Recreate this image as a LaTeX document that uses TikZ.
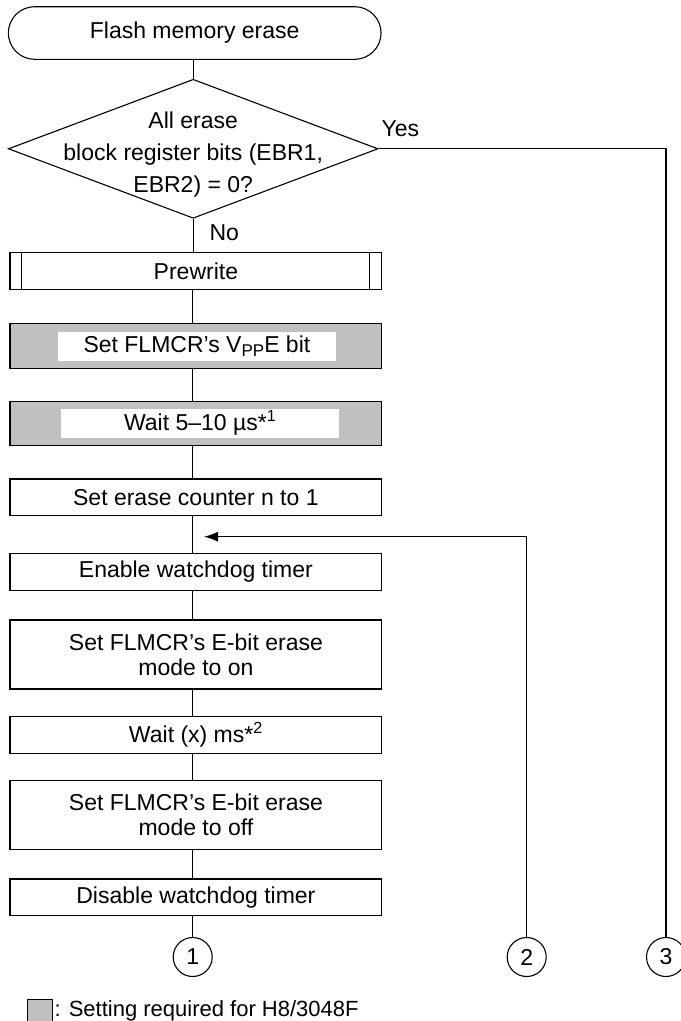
\documentclass[tikz,border=0pt]{standalone}
\usepackage{fontspec}
\setmainfont{Liberation Sans}
\usetikzlibrary{shapes.geometric,arrows.meta}
\definecolor{boxgray}{HTML}{C0C0C0}
\newcommand{\mysub}[1]{\raisebox{-4.5bp}{\fontsize{17bp}{16bp}\selectfont #1}}
\begin{document}
\begin{tikzpicture}[x=1bp,y=-1bp, line width=1.1bp,
  font=\fontsize{23bp}{28bp}\selectfont,
  box/.style={draw, rectangle, minimum width=371.7bp, inner sep=0pt, align=center},
  graybox/.style={box, fill=boxgray},
  whitelabel/.style={fill=white, inner sep=0pt},
  twoline/.style={font=\fontsize{23bp}{25bp}\selectfont},
  conn/.style={draw, circle, minimum size=39bp, inner sep=0pt},
  lbl/.style={anchor=base west, inner sep=0pt},
  arr/.style={-{Latex[length=14bp,width=10bp]}}]
\useasboundingbox (0,0) rectangle (681,1021);
\coordinate (sp) at (192.9,0);
% nodes
\node[draw, rounded corners=26.3bp, minimum width=372.7bp, minimum height=52.6bp, inner sep=0pt] (start) at (194.7,33) {Flash memory erase};
\node[draw, diamond, minimum width=369.7bp, minimum height=139bp, inner sep=0pt] (dec) at (193.2,148.8) {};
\node[align=center, inner sep=0pt, font=\fontsize{23bp}{32bp}\selectfont] (dectext) at (193.2,155) {All erase\\block register bits (EBR1,\\EBR2) = 0?};
\node[box, minimum height=36.3bp] (pre) at (195.9,270.9) {Prewrite};
\draw ([xshift=12bp]pre.north west) -- ([xshift=12bp]pre.south west);
\draw ([xshift=-12.7bp]pre.north east) -- ([xshift=-12.7bp]pre.south east);
\node[graybox, minimum height=45bp] (vpp) at (195.9,345.8) {};
\node[whitelabel, minimum width=277.7bp, minimum height=29bp] (vpptext) at (196.9,346.2) {Set FLMCR’s V\mysub{PP}E bit};
\node[graybox, minimum height=44.4bp] (w1) at (195.9,423.5) {};
\node[whitelabel, minimum width=278.3bp, minimum height=28.7bp] (w1text) at (200.2,423.3) {Wait 5–10 µs*\textsuperscript{1}};
\node[box, minimum height=36.7bp] (cnt) at (195.9,497.3) {Set erase counter n to 1};
\node[box, minimum height=36.7bp] (wdt) at (195.9,571.7) {Enable watchdog timer};
\node[box, twoline, minimum height=69bp] (eon) at (195.9,654.5) {Set FLMCR’s E-bit erase\\mode to on};
\node[box, minimum height=36.6bp] (wx) at (195.9,735) {Wait (x) ms*\textsuperscript{2}};
\node[box, twoline, minimum height=68.6bp] (eoff) at (195.9,815) {Set FLMCR’s E-bit erase\\mode to off};
\node[box, minimum height=36.7bp] (dis) at (195.9,897.3) {Disable watchdog timer};
\node[conn] (c1) at (192.7,957) {1};
\node[conn] (c2) at (526.7,957) {2};
\node[conn] (c3) at (666,957) {3};
% labels
\node[lbl] (yes) at (381,136) {Yes};
\node[lbl] (no) at (209,240.7) {No};
% connectors
\draw (start.south -| dec.north) -- (dec.north);
\draw (dec.south) -- (pre.north -| dec.south);
\draw (pre.south -| sp) -- (vpp.north -| sp);
\draw (vpp.south -| sp) -- (w1.north -| sp);
\draw (w1.south -| sp) -- (cnt.north -| sp);
\draw (cnt.south -| sp) -- (wdt.north -| sp);
\draw (wdt.south -| sp) -- (eon.north -| sp);
\draw (eon.south -| sp) -- (wx.north -| sp);
\draw (wx.south -| sp) -- (eoff.north -| sp);
\draw (eoff.south -| sp) -- (dis.north -| sp);
\draw (dis.south -| c1.north) -- (c1.north);
\draw (dec.east) -- (dec.east -| c3.north) -- (c3.north);
\coordinate (loopin) at (204,536.7);
\draw[arr] (c2.north) |- (loopin);
% legend
\node[draw, fill=boxgray, minimum width=25bp, minimum height=24bp, inner sep=0pt, anchor=north west] (leg) at (27,999) {};
\node[lbl, font=\fontsize{22bp}{26bp}\selectfont] (legtext) at (54,1016) {: Setting required for H8/3048F};
\end{tikzpicture}
\end{document}
